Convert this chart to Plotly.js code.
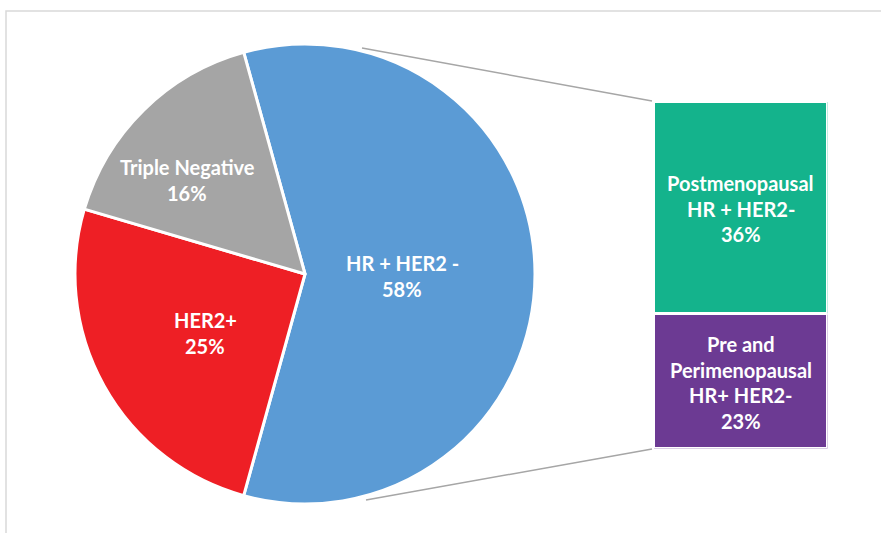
<!DOCTYPE html>
<html>
<head>
<meta charset="utf-8">
<script src="https://cdn.plot.ly/plotly-3.0.1.min.js"></script>
<style>html,body{margin:0;padding:0;background:#fff;}#chart{width:881px;height:533px;}</style>
</head>
<body>
<div id="chart"></div>
<script>
// ---- data ----
const pieLabels = ['HR + HER2 -', 'HER2+', 'Triple Negative'];
const pieValues = [58, 25, 16];
const piePctText = ['58%', '25%', '16%'];
const pieColors = ['#5B9BD5', '#EE1F25', '#A5A5A5'];

const barLabels = ['Pre and<br>Perimenopausal<br>HR+ HER2-', 'Postmenopausal<br>HR + HER2-'];
const barValues = [23, 36];
const barPctText = ['23%', '36%'];
const barColors = ['#6C3A93', '#14B38C'];

// ---- layout helpers ----
const W = 881, H = 533;
const px = x => x / W;
const py = y => 1 - y / H;
const FONT = 'Lato, "Open Sans", sans-serif';
const LINE = 25.5;

const traces = [];
traces.push({
  type: 'pie',
  labels: pieLabels,
  values: pieValues,
  sort: false,
  direction: 'clockwise',
  rotation: -15.45,
  marker: {colors: pieColors, line: {color: '#ffffff', width: 3}},
  textinfo: 'none',
  hoverinfo: 'skip',
  domain: {x: [px(75), px(535)], y: [py(504), py(44)]},
  showlegend: false
});

barValues.forEach((v, i) => {
  traces.push({
    type: 'bar',
    x: [0],
    y: [v],
    width: 1,
    marker: {color: barColors[i], line: {color: '#ffffff', width: 3}},
    hoverinfo: 'skip',
    showlegend: false,
    xaxis: 'x', yaxis: 'y'
  });
});

const annotations = [];
function addLines(lines, common, centerShift) {
  const n = lines.length;
  lines.forEach((t, k) => {
    annotations.push(Object.assign({}, common, {
      text: '<b>' + t + '</b>',
      showarrow: false,
      xanchor: 'center', yanchor: 'middle',
      font: {family: FONT, size: 20, color: '#ffffff'},
      yshift: ((n - 1) / 2 - k) * LINE + (centerShift || 0)
    }));
  });
}
// pie labels (paper positions)
const piePos = [[402, 276], [205, 333], [187, 180]];
pieLabels.forEach((lab, i) => {
  const lines = lab.split('<br>').concat([piePctText[i]]);
  addLines(lines, {xref: 'paper', yref: 'paper', x: px(piePos[i][0]), y: py(piePos[i][1])});
});
// bar labels (data positions)
let cum = 0;
barValues.forEach((v, i) => {
  const mid = cum + v / 2;
  cum += v;
  const lines = barLabels[i].split('<br>').concat([barPctText[i]]);
  addLines(lines, {xref: 'x', yref: 'y', x: 0, y: mid}, -1.5);
});

const shapes = [
  // chart frame
  {type: 'rect', xref: 'paper', yref: 'paper', x0: px(6), x1: px(900), y0: py(560), y1: py(11),
   line: {color: '#D9D9D9', width: 1.5}, fillcolor: 'rgba(0,0,0,0)', layer: 'below'},
  // series lines
  {type: 'line', xref: 'paper', yref: 'paper', x0: px(362), y0: py(48), x1: px(652), y1: py(101),
   line: {color: '#A6A6A6', width: 1.5}},
  {type: 'line', xref: 'paper', yref: 'paper', x0: px(366), y0: py(500), x1: px(652), y1: py(449),
   line: {color: '#A6A6A6', width: 1.5}}
];

const layout = {
  width: W, height: H,
  margin: {l: 0, r: 0, t: 0, b: 0, pad: 0},
  paper_bgcolor: '#ffffff', plot_bgcolor: 'rgba(0,0,0,0)',
  barmode: 'stack',
  bargap: 0,
  showlegend: false,
  xaxis: {domain: [px(653.5), px(827.5)], range: [-0.5, 0.5], visible: false, fixedrange: true},
  yaxis: {domain: [py(448.5), py(101.5)], range: [0, 59], visible: false, fixedrange: true},
  annotations: annotations,
  shapes: shapes,
  font: {family: FONT}
};

Plotly.newPlot('chart', traces, layout, {displayModeBar: false, staticPlot: true});
</script>
</body>
</html>
